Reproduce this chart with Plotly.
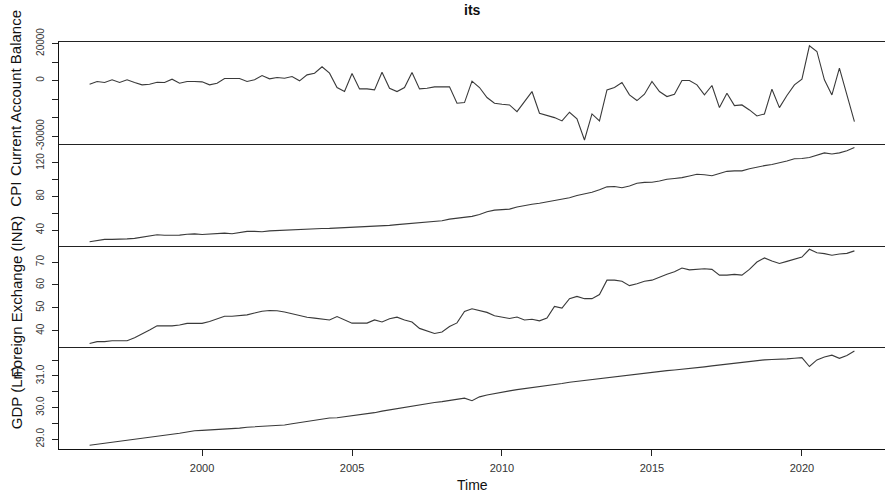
import numpy as np
import plotly.graph_objects as go
from plotly.subplots import make_subplots

# quarterly time index (1996 Q2 .. 2021 Q4), as in an R ts object
start_year, start_q, n_obs = 1996, 2, 103
time = [start_year + (start_q - 1 + k) / 4 for k in range(n_obs)]

current_account = [
    -1960, -520, -1060, 380, -1060, 380, -1060, -2320, -1960, -880,
    -1060, 740, -1420, -520, -520, -700, -2320, -1420, 1100, 1100,
    1100, -520, 380, 2720, 920, 1640, 1280, 2180, -160, 3080,
    3980, 7400, 3980, -3770, -5930, 3800, -4490, -4490, -5030, 4520,
    -4130, -5930, -3770, 4340, -4490, -4130, -3410, -3410, -3410, -12230,
    -11880, -340, -3770, -9170, -12230, -12770, -13140, -16740, -11340, -5930,
    -17640, -18900, -19980, -21780, -17100, -20700, -32050, -18000, -21780, -5030,
    -3770, -1060, -7730, -10790, -7370, -520, -5930, -8630, -7370, 20,
    20, -2320, -7730, -2680, -14580, -6830, -13500, -13140, -15840, -19080,
    -18000, -4670, -14580, -8090, -2320, 740, 18760, 15690, 380, -7730,
    6690, -7730, -22140,
]

cpi = [
    26.1, 27.5, 28.9, 28.9, 28.9, 29.5, 30.1, 31.5, 33.0, 34.5,
    33.8, 33.7, 34.0, 35.0, 35.5, 34.8, 35.4, 36.1, 36.3, 35.6,
    36.8, 38.4, 38.5, 38.0, 39.0, 39.5, 40.0, 40.6, 41.0, 41.5,
    41.7, 41.8, 42.0, 42.4, 42.8, 43.2, 43.5, 44.0, 44.6, 45.1,
    45.6, 46.5, 47.2, 47.8, 48.3, 49.2, 50.1, 51.1, 53.0, 54.2,
    55.2, 56.3, 58.5, 61.8, 63.8, 64.8, 65.0, 67.5, 69.5, 70.8,
    72.0, 73.7, 75.0, 76.5, 78.5, 81.2, 83.0, 85.0, 88.0, 91.5,
    92.0, 90.4, 92.5, 95.8, 96.8, 97.0, 98.5, 100.5, 101.5, 102.5,
    104.5, 106.5, 106.0, 104.8, 107.5, 110.0, 110.5, 110.6, 113.0, 115.2,
    116.8, 118.2, 120.0, 122.3, 125.0, 125.3, 126.5, 129.5, 132.0, 130.7,
    132.0, 134.5, 138.4,
]

forex = [
    34.4, 35.2, 35.2, 35.6, 35.6, 35.6, 36.9, 38.5, 40.3, 42.1,
    42.1, 42.1, 42.5, 43.2, 43.2, 43.2, 44.0, 45.0, 46.3, 46.3,
    46.5, 46.9, 47.7, 48.5, 48.8, 48.7, 48.2, 47.4, 46.6, 45.9,
    45.5, 45.2, 44.7, 46.2, 44.7, 43.3, 43.3, 43.3, 44.7, 43.8,
    45.2, 45.9, 44.7, 43.8, 41.0, 40.0, 38.8, 39.4, 41.8, 43.4,
    48.4, 49.6, 48.8, 48.0, 46.5, 45.8, 45.3, 46.0, 44.7, 45.0,
    44.3, 45.5, 50.6, 49.9, 54.0, 55.0, 54.0, 54.0, 55.8, 62.1,
    62.1, 61.6, 59.7, 60.5, 61.6, 62.1, 63.5, 64.7, 65.8, 67.4,
    66.6, 66.8, 67.1, 66.8, 64.3, 64.3, 64.6, 64.3, 66.8, 70.0,
    71.8, 70.5, 69.4, 70.3, 71.2, 72.2, 75.6, 74.1, 73.7, 73.0,
    73.5, 73.8, 74.9,
]

gdp_ln = [
    28.81, 28.84, 28.87, 28.90, 28.94, 28.97, 29.00, 29.03, 29.06, 29.09,
    29.12, 29.16, 29.19, 29.23, 29.27, 29.28, 29.29, 29.30, 29.31, 29.33,
    29.35, 29.38, 29.39, 29.40, 29.42, 29.43, 29.45, 29.49, 29.53, 29.57,
    29.61, 29.64, 29.67, 29.68, 29.71, 29.74, 29.77, 29.80, 29.84, 29.89,
    29.93, 29.98, 30.02, 30.05, 30.08, 30.12, 30.16, 30.19, 30.23, 30.26,
    30.30, 30.22, 30.34, 30.40, 30.45, 30.49, 30.53, 30.57, 30.60, 30.63,
    30.65, 30.69, 30.73, 30.76, 30.80, 30.83, 30.86, 30.88, 30.90, 30.93,
    30.97, 31.01, 31.04, 31.07, 31.10, 31.12, 31.14, 31.17, 31.19, 31.21,
    31.23, 31.25, 31.29, 31.32, 31.35, 31.38, 31.41, 31.44, 31.47, 31.50,
    31.51, 31.52, 31.52, 31.54, 31.56, 31.58, 31.30, 31.51, 31.60, 31.66,
    31.56, 31.65, 31.79,
]

series_names = ["Current Account Balance", "CPI", "Foreign Exchange (INR)", "GDP (Ln)"]
series_values = [current_account, cpi, forex, gdp_ln]

y_tickvals = [
    [-30000, -20000, -10000, 0, 10000, 20000],
    [40, 60, 80, 100, 120],
    [40, 50, 60, 70],
    [29.0, 29.5, 30.0, 30.5, 31.0, 31.5],
]
y_ticktext = [
    ["-30000", "", "", "0", "", "20000"],
    ["40", "", "80", "", "120"],
    ["40", "50", "60", "70"],
    ["29.0", "", "30.0", "", "31.0", ""],
]
x_tickvals = [2000, 2005, 2010, 2015, 2020]
x_ticktext = ["2000", "2005", "2010", "2015", "2020"]

title_text = "its"
x_title = "Time"

FONT = "Liberation Sans, Arial, sans-serif"
LINE = "#3a3a3a"


def r_range(vals):
    lo, hi = min(vals), max(vals)
    pad = 0.04 * (hi - lo)
    return [lo - pad, hi + pad]


fig = make_subplots(rows=4, cols=1, shared_xaxes=True, vertical_spacing=0)

xr = r_range(time)
for i, vals in enumerate(series_values):
    row = i + 1
    fig.add_trace(
        go.Scatter(x=time, y=vals, mode="lines",
                   line=dict(color=LINE, width=1.1), name=series_names[i],
                   hoverinfo="x+y"),
        row=row, col=1,
    )
    fig.update_yaxes(
        row=row, col=1,
        range=r_range(vals),
        tickmode="array", tickvals=y_tickvals[i], ticktext=y_ticktext[i],
        tickangle=-90, ticks="outside", ticklen=6, tickcolor="#222",
        tickwidth=1, ticklabelstandoff=4,
        tickfont=dict(family=FONT, size=10, color="#333"),
        showline=True, linecolor="#111", linewidth=1, mirror=False,
        showgrid=False, zeroline=False, automargin=False,
    )
    bottom = row == 4
    fig.update_xaxes(
        row=row, col=1,
        range=xr,
        tickmode="array", tickvals=x_tickvals, ticktext=x_ticktext,
        ticks="outside" if bottom else "", ticklen=6, tickcolor="#222",
        showticklabels=bottom, ticklabelstandoff=3,
        tickfont=dict(family=FONT, size=11, color="#333"),
        showline=True, linecolor="#222" if row < 4 else "#111", linewidth=1,
        mirror=(row == 1),
        showgrid=False, zeroline=False, automargin=False,
    )

annotations = [
    dict(text="<b>%s</b>" % title_text, x=0.5, y=1, xref="paper", yref="paper",
         xanchor="center", yanchor="middle", yshift=32, showarrow=False,
         font=dict(family=FONT, size=14, color="#111")),
    dict(text=x_title, x=0.5, y=0, xref="paper", yref="paper",
         xanchor="center", yanchor="middle", yshift=-36, showarrow=False,
         font=dict(family=FONT, size=14, color="#111")),
]
for i, name in enumerate(series_names):
    yc = 1 - (i + 0.5) / 4
    annotations.append(dict(
        text=name, x=0, y=yc, xref="paper", yref="paper", textangle=-90,
        xanchor="center", yanchor="middle", xshift=-43, showarrow=False,
        font=dict(family=FONT, size=15, color="#111"),
    ))

fig.update_layout(
    width=885, height=495,
    margin=dict(l=59, r=0, t=42, b=46),
    plot_bgcolor="white", paper_bgcolor="white",
    showlegend=False,
    annotations=annotations,
)

fig.write_html("out.html",
               config={"displayModeBar": False},
               post_script="document.body.style.margin='0px';"
                           "document.body.style.overflow='hidden';")
